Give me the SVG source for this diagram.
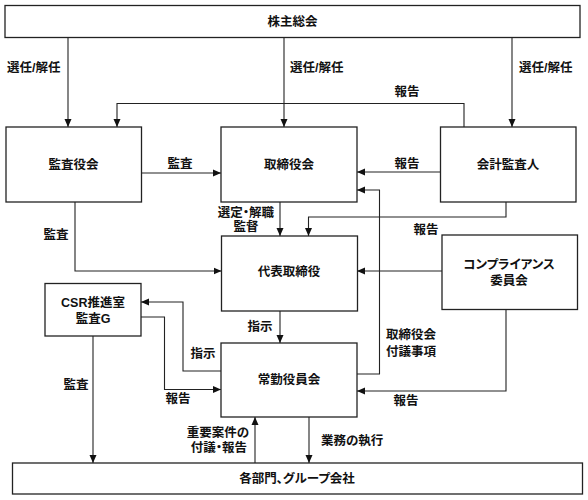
<svg xmlns="http://www.w3.org/2000/svg" width="588" height="500" viewBox="0 0 588 500">
<style>
.box{fill:#fff;stroke:#222;stroke-width:1.3}
.ln{fill:none;stroke:#222;stroke-width:1.1;marker-end:url(#ah)}
text{font-family:"Liberation Sans","Noto Sans CJK JP",sans-serif;font-size:12.5px;font-weight:bold;fill:#111;dominant-baseline:central;font-feature-settings:"palt"}
.c{text-anchor:middle}
</style>
<defs>
<marker id="ah" markerUnits="userSpaceOnUse" markerWidth="8" markerHeight="8" refX="8" refY="4" orient="auto">
<path d="M0,0.5 L8,4 L0,7.5 z" fill="#111"/>
</marker>
</defs>
<rect width="588" height="500" fill="#fff"/>
<g id="connectors">
<path class="ln" d="M68,37.5 V127"/>
<path class="ln" d="M284,37.5 V127"/>
<path class="ln" d="M512,37.5 V127"/>
<path class="ln" d="M464,127 V103.5 H117 V127"/>
<path class="ln" d="M141,173 H221"/>
<path class="ln" d="M440,172 H357"/>
<path class="ln" d="M357,374 H379.5 V190 H357"/>
<path class="ln" d="M280,202 V236"/>
<path class="ln" d="M506,202 V217 H308.5 V236"/>
<path class="ln" d="M75,202 V271 H221.5"/>
<path class="ln" d="M442,271 H357"/>
<path class="ln" d="M280,311 V343"/>
<path class="ln" d="M221,371 H183 V302 H141"/>
<path class="ln" d="M141,317 H164.5 V389.5 H221"/>
<path class="ln" d="M93,336 V463"/>
<path class="ln" d="M255,463 V417"/>
<path class="ln" d="M309,417 V463"/>
<path class="ln" d="M506,309.5 V391 H357"/>
</g>
<g id="labels">
<text x="7" y="68">選任/解任</text>
<text x="290" y="68">選任/解任</text>
<text x="519" y="68">選任/解任</text>
<text class="c" x="407" y="92">報告</text>
<text class="c" x="180" y="164">監査</text>
<text class="c" x="407" y="164">報告</text>
<text class="c" x="246" y="213">選定・解職</text>
<text class="c" x="246" y="227">監督</text>
<text class="c" x="56" y="235">監査</text>
<text class="c" x="426" y="230">報告</text>
<text class="c" x="260" y="327">指示</text>
<text class="c" x="203" y="354">指示</text>
<text class="c" x="178" y="399">報告</text>
<text class="c" x="76" y="385">監査</text>
<text class="c" x="218" y="433">重要案件の</text>
<text class="c" x="219" y="448">付議・報告</text>
<text x="321" y="441">業務の執行</text>
<text x="386" y="335">取締役会</text>
<text x="386" y="352">付議事項</text>
<text class="c" x="406" y="401">報告</text>
</g>
<g id="n-shareholders"><rect class="box" x="5" y="5.5" width="575" height="32"/><text class="c" x="292.5" y="22">株主総会</text></g>
<g id="n-kansayakukai"><rect class="box" x="6" y="127" width="135.5" height="75"/><text class="c" x="73.5" y="165">監査役会</text></g>
<g id="n-torishimariyakukai"><rect class="box" x="221" y="127" width="136" height="75"/><text class="c" x="289" y="165">取締役会</text></g>
<g id="n-kaikeikansanin"><rect class="box" x="440.5" y="127" width="135.5" height="75"/><text class="c" x="508" y="165">会計監査人</text></g>
<g id="n-daihyo"><rect class="box" x="221.5" y="236" width="136" height="75"/><text class="c" x="289" y="272">代表取締役</text></g>
<g id="n-compliance"><rect class="box" x="442" y="235" width="135.5" height="74.5"/><text class="c" x="509" y="265">コンプライアンス</text><text class="c" x="509" y="281">委員会</text></g>
<g id="n-csr"><rect class="box" x="45" y="283.5" width="96" height="52.5"/><text class="c" x="93" y="303">CSR推進室</text><text class="c" x="93" y="319">監査G</text></g>
<g id="n-jokin"><rect class="box" x="221" y="343" width="136" height="74"/><text class="c" x="289" y="380">常勤役員会</text></g>
<g id="n-bumon"><rect class="box" x="12.5" y="463" width="570" height="31"/><text class="c" x="297" y="479">各部門、グループ会社</text></g>
</svg>
